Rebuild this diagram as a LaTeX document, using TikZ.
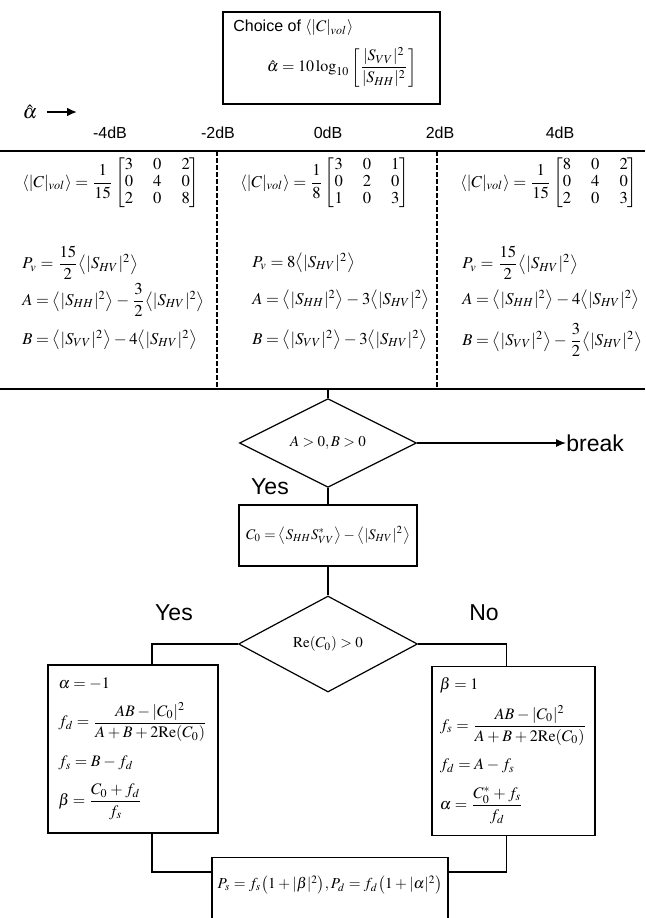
\documentclass[tikz,border=0pt]{standalone}
\usepackage{amsmath,amssymb}
\usepackage{mathptmx}
\usepackage{fontspec}
\setmainfont{Liberation Serif}
\setsansfont{Liberation Sans}
\usetikzlibrary{shapes.geometric,arrows.meta}

\newcommand{\avgof}[1]{\bigl\langle #1 \bigr\rangle}
\newcommand{\spow}[1]{\lvert S_{#1}\rvert^2}
\newcommand{\cvol}{\langle\lvert C\rvert_{vol}\rangle}
\newcommand{\tightmath}{\thickmuskip=4mu\medmuskip=3mu\renewcommand{\arraystretch}{0.85}}

\begin{document}
\begin{tikzpicture}[x=0.5pt,y=-0.5pt,
    box/.style={draw,line width=0.6pt,inner sep=0pt},
    decision/.style={draw,diamond,inner sep=0pt,line width=0.6pt,font=\fontsize{7.5}{9}\selectfont},
    eqn/.style={anchor=west,inner sep=0pt,font=\fontsize{8.3}{10}\selectfont\tightmath},
    boxtext/.style={font=\fontsize{8}{9.5}\selectfont\tightmath,align=left},
    lbl/.style={inner sep=0pt,font=\fontsize{11.5}{13}\selectfont\sffamily},
    dblbl/.style={inner sep=0pt,font=\fontsize{8}{9}\selectfont\sffamily},
    link/.style={line width=0.6pt},
    sep/.style={line width=0.9pt,dash pattern=on 2.5pt off 1pt}]
\useasboundingbox (0,0) rectangle (645,918);
\clip (0,0) rectangle (645,918);

% choice of the volume model
\node[box,minimum width=108.5pt,minimum height=46pt] (choice) at (331.5,58) {};
\node[anchor=west,dblbl] (choicetxt) at (233,28) {Choice of $\cvol$};
\node[inner sep=0pt,font=\fontsize{8}{9.5}\selectfont] (alphahat) at (342,67)
  {$\displaystyle\hat{\alpha}=10\log_{10}\left[\frac{\lvert S_{VV}\rvert^2}{\lvert S_{HH}\rvert^2}\right]$};

% alpha axis and ranges
\node[inner sep=0pt] (axis) at (30,112) {$\hat{\alpha}$};
\coordinate (axisend) at (77,112);
\draw[-{Latex[length=5pt,width=4.5pt]},line width=1.3pt,shorten <=4.5pt] (axis.east) -- (axisend);
\foreach \x/\t [count=\i] in {110/-4dB,218/-2dB,328/0dB,440/2dB,560/4dB}
  \node[dblbl] (db\i) at (\x,133) {\t};

\draw[line width=0.7pt] (0,151) -- (645,151);
\draw[line width=0.7pt] (0,389) -- (645,389);
\foreach \x in {217,437}
  \draw[sep] (\x,151) -- (\x,389);

% left column
\node[eqn] (cl) at (22,183) {$\cvol=\dfrac{1}{15}\begin{bmatrix}3&0&2\\0&4&0\\2&0&8\end{bmatrix}$};
\node[eqn] (pl) at (22,263) {$P_v=\dfrac{15}{2}\avgof{\spow{HV}}$};
\node[eqn] (al) at (22,300) {$A=\avgof{\spow{HH}}-\dfrac{3}{2}\avgof{\spow{HV}}$};
\node[eqn] (bl) at (22,340) {$B=\avgof{\spow{VV}}-4\avgof{\spow{HV}}$};

% middle column
\node[eqn] (cm) at (240,183) {$\cvol=\dfrac{1}{8}\begin{bmatrix}3&0&1\\0&2&0\\1&0&3\end{bmatrix}$};
\node[eqn] (pm) at (252,263) {$P_v=8\avgof{\spow{HV}}$};
\node[eqn] (am) at (252,300) {$A=\avgof{\spow{HH}}-3\avgof{\spow{HV}}$};
\node[eqn] (bm) at (252,340) {$B=\avgof{\spow{VV}}-3\avgof{\spow{HV}}$};

% right column
\node[eqn] (cr) at (460,183) {$\cvol=\dfrac{1}{15}\begin{bmatrix}8&0&2\\0&4&0\\2&0&3\end{bmatrix}$};
\node[eqn] (pr) at (462,263) {$P_v=\dfrac{15}{2}\avgof{\spow{HV}}$};
\node[eqn] (ar) at (462,300) {$A=\avgof{\spow{HH}}-4\avgof{\spow{HV}}$};
\node[eqn] (br) at (462,340) {$B=\avgof{\spow{VV}}-\dfrac{3}{2}\avgof{\spow{HV}}$};

% flow chart
\coordinate (tblbot) at (328,389);
\node[decision,minimum width=88.5pt,minimum height=38pt] (d1) at (328,443) {$A>0,B>0$};
\node[lbl,anchor=west] (brk) at (566,443) {break};
\node[lbl] (yes1) at (270,487) {Yes};
\node[box,minimum width=89pt,minimum height=30.5pt,font=\fontsize{7.3}{9}\selectfont\tightmath] (c0) at (328,535.5)
  {$C_0=\avgof{S_{HH}S_{VV}^{*}}-\avgof{\spow{HV}}$};
\node[decision,minimum width=89.5pt,minimum height=48pt] (d2) at (328,644) {$\mathrm{Re}(C_0)>0$};
\node[lbl] (yes2) at (174,613) {Yes};
\node[lbl] (no2) at (484,613) {No};

\node[box,boxtext,minimum width=85pt,minimum height=84pt] (lbox) at (133,749)
  {$\alpha=-1$\\[5pt]
   $f_d=\dfrac{AB-\lvert C_0\rvert^2}{A+B+2\mathrm{Re}(C_0)}$\\[6pt]
   $f_s=B-f_d$\\[6pt]
   $\beta=\dfrac{C_0+f_d}{f_s}$};
\node[box,boxtext,minimum width=81.5pt,minimum height=84.5pt] (rbox) at (513.5,751)
  {$\beta=1$\\[5pt]
   $f_s=\dfrac{AB-\lvert C_0\rvert^2}{A+B+2\mathrm{Re}(C_0)}$\\[6pt]
   $f_d=A-f_s$\\[6pt]
   $\alpha=\dfrac{C_0^{*}+f_s}{f_d}$};
\node[box,anchor=north,minimum width=118pt,inner xsep=2pt,inner ysep=4pt,text height=11.5pt,text depth=28pt,font=\fontsize{7.6}{9}\selectfont\tightmath] (fin) at (330,857)
  {$P_s=f_s\bigl(1+\lvert\beta\rvert^2\bigr),P_d=f_d\bigl(1+\lvert\alpha\rvert^2\bigr)$};

\draw[link] (tblbot) -- (d1.north);
\draw[link,-{Latex[length=5pt,width=4pt]}] (d1.east) -- (brk.west);
\draw[link] (d1.south) -- (c0.north);
\draw[link] (c0.south) -- (d2.north);
\draw[link] (d2.west) -| ([xshift=9.5pt]lbox.north);
\draw[link] (d2.east) -| ([xshift=-3.5pt]rbox.north);
\draw[link] ([xshift=9.5pt]lbox.south) |- ([yshift=-7.5pt]fin.north west);
\draw[link] ([xshift=-3.5pt]rbox.south) |- ([yshift=-7.5pt]fin.north east);
\end{tikzpicture}
\end{document}
